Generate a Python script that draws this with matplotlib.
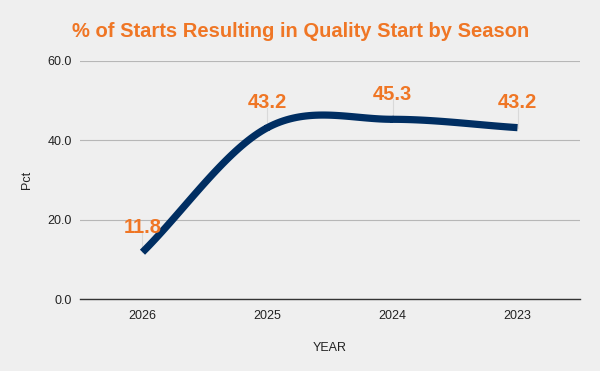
import matplotlib.pyplot as plt
import numpy as np

# values
years = ["2026", "2025", "2024", "2023"]
pct = [11.8, 43.2, 45.3, 43.2]

ORANGE = "#ef7625"
NAVY = "#002e62"
BG = "#efefef"

plt.rcParams['font.family'] = ['Liberation Sans', 'DejaVu Sans']


def catmull_rom(x, y, n=40):
    # smooth curve through the points, like the sheets "smooth" option
    x = np.asarray(x, float)
    y = np.asarray(y, float)
    px = np.concatenate([[2 * x[0] - x[1]], x, [2 * x[-1] - x[-2]]])
    py = np.concatenate([[2 * y[0] - y[1]], y, [2 * y[-1] - y[-2]]])
    xs, ys = [], []
    for i in range(1, len(px) - 2):
        t = np.linspace(0, 1, n)
        for p, out in ((px, xs), (py, ys)):
            p0, p1, p2, p3 = p[i - 1], p[i], p[i + 1], p[i + 2]
            out.append(0.5 * (2 * p1 + (-p0 + p2) * t
                              + (2 * p0 - 5 * p1 + 4 * p2 - p3) * t ** 2
                              + (-p0 + 3 * p1 - 3 * p2 + p3) * t ** 3))
    return np.concatenate(xs), np.concatenate(ys)


fig = plt.figure(figsize=(6, 3.71), dpi=100, facecolor=BG)
ax = fig.add_axes([0.1333, 0.194, 0.8334, 0.6416], facecolor=BG)

x = np.arange(len(years))
sx, sy = catmull_rom(x, pct)
ax.plot(sx, sy, color=NAVY, lw=5.2, solid_capstyle='butt', zorder=3)

for xi, v in zip(x, pct):
    ax.plot([xi, xi], [v, v + 5], color="#d9d9d9", lw=0.8, zorder=2)
    ax.annotate(f"{v:.1f}", (xi, v), xytext=(0, 11), textcoords='offset points',
                ha='center', va='bottom', color=ORANGE, fontsize=14.5,
                fontweight='bold', zorder=4)

ax.set_xlim(-0.5, len(years) - 0.5)
ax.set_ylim(0, 60)
ax.set_yticks([0, 20, 40, 60])
ax.set_yticklabels([f"{t:.1f}" for t in [0, 20, 40, 60]])
ax.set_xticks(x)
ax.set_xticklabels(years)
ax.tick_params(axis='both', length=0, labelsize=9, colors="#222222", pad=6)
ax.tick_params(axis='x', pad=8)
ax.yaxis.grid(True, color="#b7b7b7", lw=0.8)
ax.set_axisbelow(True)
for s in ['top', 'right', 'left']:
    ax.spines[s].set_visible(False)
ax.spines['bottom'].set_color("#333333")
ax.spines['bottom'].set_linewidth(1)

ax.set_xlabel("YEAR", fontsize=9, color="#222222", labelpad=14)
ax.set_ylabel("Pct", fontsize=9, color="#222222", labelpad=10)

fig.text(0.12, 0.915, "% of Starts Resulting in Quality Start by Season",
         color=ORANGE, fontsize=14.5, fontweight='bold', ha='left', va='center')

fig.savefig("out.png", dpi=100, facecolor=BG)
